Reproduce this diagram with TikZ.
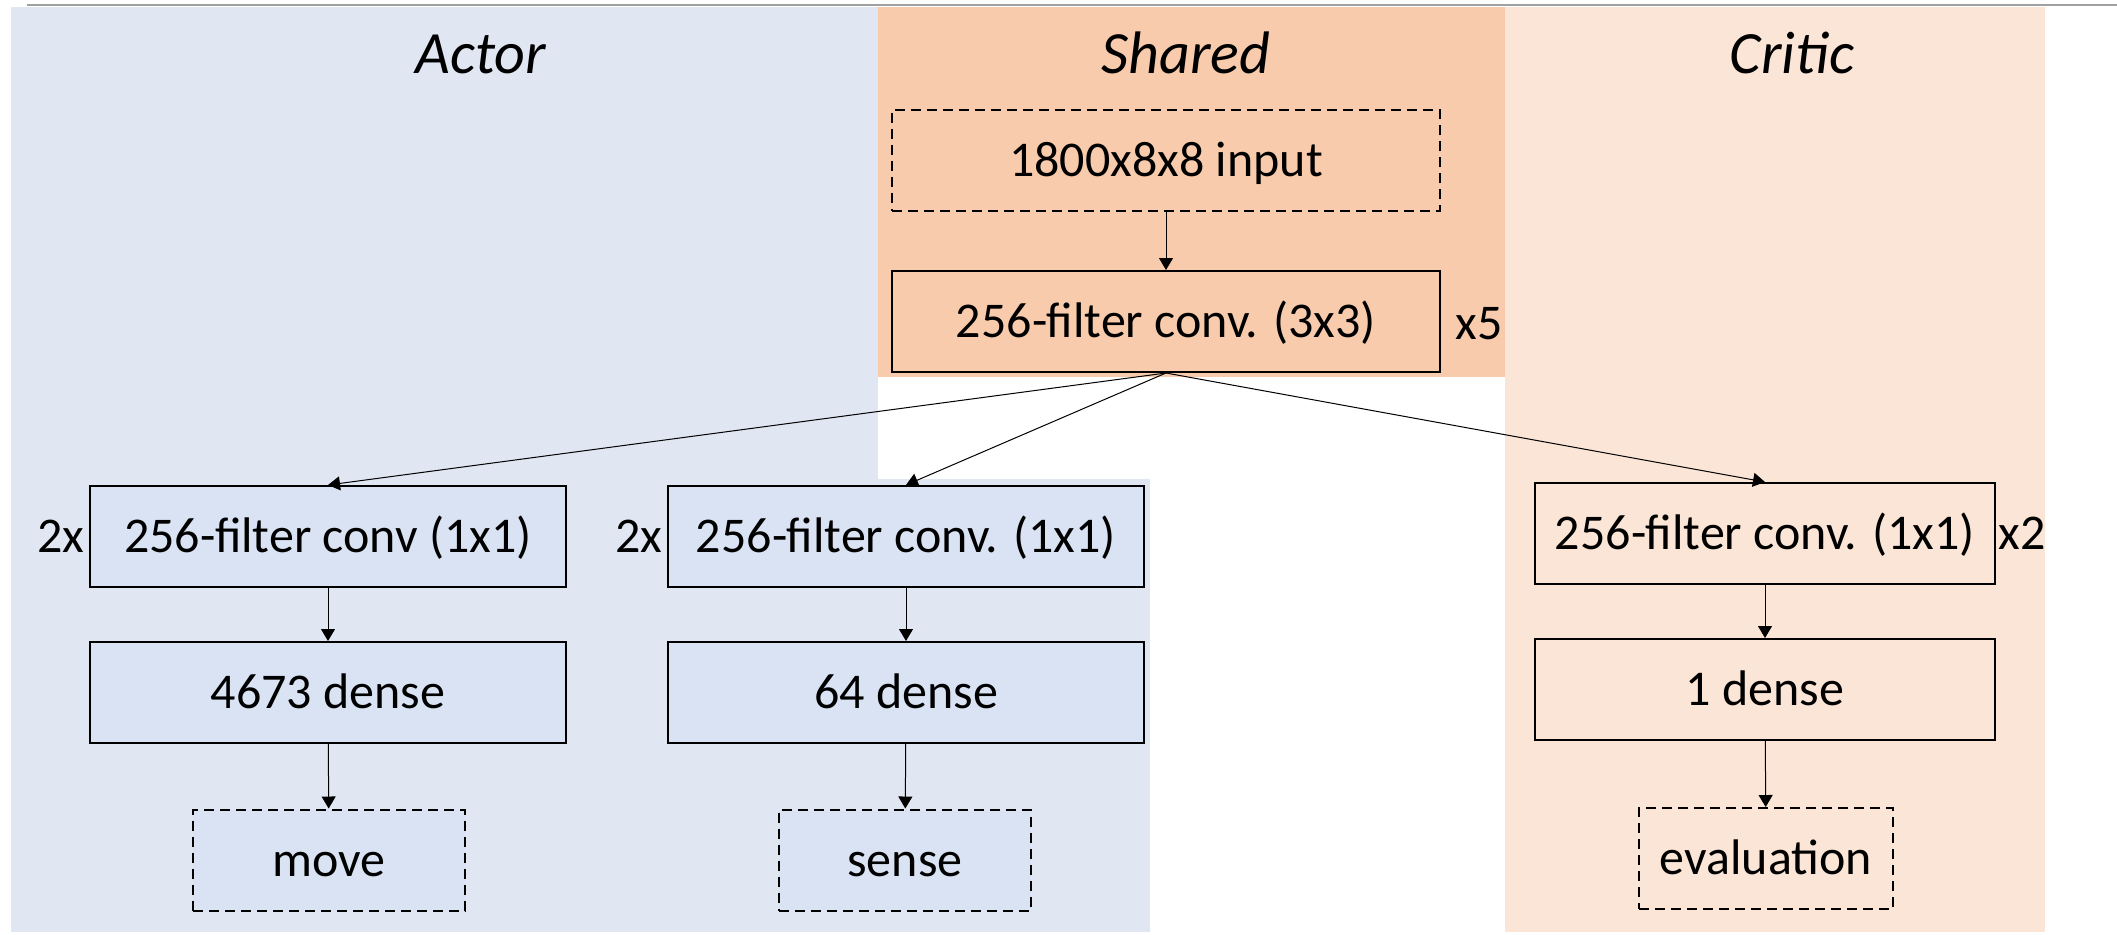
\documentclass[tikz,border=0pt]{standalone}
\usepackage{fontspec}
\setmainfont{Carlito}
\usetikzlibrary{arrows.meta}
\definecolor{actorbg}{HTML}{E1E7F2}
\definecolor{actorbox}{HTML}{DAE3F3}
\definecolor{sharedbg}{HTML}{F8CBAD}
\definecolor{criticbg}{HTML}{FBE5D6}
\definecolor{topline}{HTML}{A0A0A0}
\tikzset{
  txt/.style={text height=16pt, text depth=0pt, font=\fontsize{25pt}{30pt}\selectfont},
  layer/.style={txt, draw=black, line width=1pt, inner sep=0pt, minimum height=50.5pt},
  iobox/.style={txt, draw=black, line width=1pt, dash pattern=on 5pt off 3pt, inner sep=0pt, minimum height=50.5pt},
  wide/.style={minimum width=238pt},
  lbl/.style={txt, inner sep=0pt},
  title/.style={inner sep=0pt, anchor=base, font=\fontsize{30pt}{36pt}\selectfont\itshape},
  arr/.style={line width=0.5pt, -{Triangle[length=6pt,width=7pt]}}
}
\begin{document}
\begin{tikzpicture}[x=0.5pt,y=-0.5pt]
\useasboundingbox (0,0) rectangle (2117,934);
% backgrounds
\fill[actorbg] (11,7) rectangle (878,932);
\fill[actorbg] (878,479) rectangle (1150,932);
\fill[sharedbg] (878,7) rectangle (1505,377);
\fill[criticbg] (1505,7) rectangle (2045,932);
\draw[topline, line width=1pt] (27,4.5) -- (2117,4.5);
% titles
\node[title] (tactor) at (481,73) {Actor};
\node[title] (tshared) at (1186,73) {Shared};
\node[title] (tcritic) at (1792,73) {Critic};
% shared
\node[iobox, minimum width=274pt] (input) at (1166,160.5) {1800x8x8 input};
\node[layer, fill=sharedbg, minimum width=274pt] (conv) at (1166,321.5) {256-filter conv. (3x3)};
\node[lbl] (x5) at (1479,323) {x5};
% actor move
\node[layer, wide, fill=actorbox] (a1) at (328,536.5) {256-filter conv (1x1)};
\node[layer, wide, fill=actorbox] (a2) at (328,692.5) {4673 dense};
\node[iobox, minimum width=136pt, fill=actorbox] (move) at (329,860) {move};
\node[lbl] (a1n) at (61,536.5) {2x};
% actor sense
\node[layer, wide, fill=actorbox] (s1) at (906,536.5) {256-filter conv. (1x1)};
\node[layer, wide, fill=actorbox] (s2) at (906,692.5) {64 dense};
\node[iobox, minimum width=126pt, fill=actorbox] (sense) at (905,860) {sense};
\node[lbl] (s1n) at (639,536.5) {2x};
% critic
\node[layer, minimum width=230pt, fill=criticbg] (c1) at (1765,533.5) {256-filter conv. (1x1)};
\node[layer, minimum width=230pt, fill=criticbg] (c2) at (1765,689.5) {1 dense};
\node[iobox, minimum width=127pt, fill=criticbg] (eval) at (1766,858.5) {evaluation};
\node[lbl] (c1n) at (2022,533.5) {x2};
% connectors
\draw[arr] (input) -- (conv);
\draw[arr] (conv.south) -- (a1.north);
\draw[arr] (conv.south) -- (s1.north);
\draw[arr] (conv.south) -- (c1.north);
\draw[arr] (a1) -- (a2);
\draw[arr] (a2) -- (move);
\draw[arr] (s1) -- (s2);
\draw[arr] (s2) -- (sense);
\draw[arr] (c1) -- (c2);
\draw[arr] (c2) -- (eval);
\end{tikzpicture}
\end{document}
